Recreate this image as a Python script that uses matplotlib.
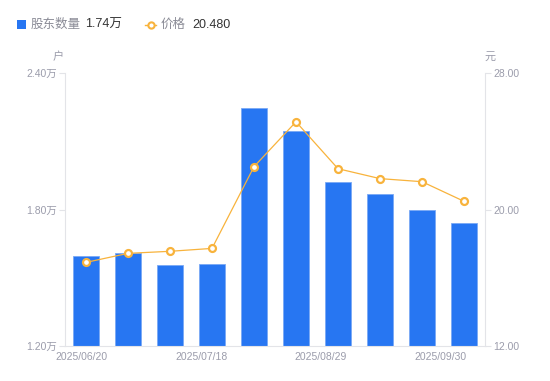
import matplotlib
matplotlib.use("Agg")
import matplotlib.pyplot as plt
from matplotlib.lines import Line2D

plt.rcParams['font.family'] = ['Liberation Sans', 'Noto Sans CJK SC', 'DejaVu Sans']

dates = ["2025/06/20", "2025/06/30", "2025/07/10", "2025/07/18", "2025/07/31",
         "2025/08/10", "2025/08/29", "2025/09/10", "2025/09/19", "2025/09/30"]
holders = [1.594, 1.607, 1.555, 1.559, 2.247, 2.146, 1.923, 1.866, 1.796, 1.74]
price = [16.90, 17.43, 17.55, 17.72, 22.51, 25.14, 22.39, 21.81, 21.63, 20.48]
left_ticks = [1.20, 1.80, 2.40]
left_labels = ["1.20万", "1.80万", "2.40万"]
right_ticks = [12.0, 20.0, 28.0]
right_labels = ["12.00", "20.00", "28.00"]
shown_dates = ["2025/06/20", "2025/07/18", "2025/08/29", "2025/09/30"]

blue = "#2776f2"
orange = "#f8b33c"
grey = "#9b9cab"
axisc = "#e3e4e8"

fig = plt.figure(figsize=(5.5, 3.81), dpi=100)
ax = fig.add_axes([65/550, 35/381, 420/550, 273/381])
ax2 = ax.twinx()

x = list(range(len(dates)))
ax.bar(x, [h - 1.20 for h in holders], bottom=1.20, width=0.62, color=blue,
       edgecolor="#7aa9f5", linewidth=0.6, zorder=2)
ax.set_xlim(-0.5, len(dates) - 0.5)
ax.set_ylim(1.20, 2.40)
ax.set_yticks(left_ticks)
ax.set_yticklabels(left_labels)

ax2.plot(x, price, color=orange, linewidth=0.9, marker="o", markersize=5,
         markerfacecolor="white", markeredgecolor=orange, markeredgewidth=1.6, zorder=3)
ax2.set_ylim(12, 28)
ax2.set_yticks(right_ticks)
ax2.set_yticklabels(right_labels)

# x labels evenly spread across the axis
n = len(shown_dates)
pos = [-0.1 + i * (8.53 / (n - 1)) for i in range(n)]
ax.set_xticks(pos)
ax.set_xticklabels(shown_dates)
ax.tick_params(axis="x", length=0, pad=4, labelsize=7.5, labelcolor=grey)
ax.tick_params(axis="y", length=4, width=0.8, color=axisc, labelsize=7.5, labelcolor=grey, pad=2)
ax2.tick_params(axis="y", length=4, width=0.8, color=axisc, labelsize=7.5, labelcolor=grey, pad=2)

for a in (ax, ax2):
    for s in a.spines.values():
        s.set_visible(False)
ax.spines["left"].set_visible(True)
ax.spines["left"].set_color(axisc)
ax.spines["bottom"].set_visible(True)
ax.spines["bottom"].set_color(axisc)
ax2.spines["right"].set_visible(True)
ax2.spines["right"].set_color(axisc)
ax.set_zorder(ax2.get_zorder() - 1)
ax.patch.set_visible(False)

# unit labels
fig.text(58/550, 1 - 57/381, "户", fontsize=8, color=grey, ha="center", va="center")
fig.text(490/550, 1 - 57/381, "元", fontsize=8, color=grey, ha="center", va="center")

# legend
fig.patches.append(plt.Rectangle((17/550, 1 - 29/381), 9/550, 9/381, transform=fig.transFigure,
                                 facecolor=blue, edgecolor="none"))
fig.text(31/550, 1 - 24.5/381, "股东数量", fontsize=9, color="#8a8b96", va="center")
fig.text(85/550, 1 - 24.5/381, "1.74万", fontsize=9, color="#333333", va="center")
fig.lines.append(Line2D([145/550, 156/550], [1 - 24.5/381, 1 - 24.5/381], transform=fig.transFigure,
                        color=orange, linewidth=1.0))
fig.lines.append(Line2D([150.5/550], [1 - 24.5/381], transform=fig.transFigure, marker="o",
                        markersize=4.5, markerfacecolor="white", markeredgecolor=orange,
                        markeredgewidth=1.5, color=orange))
fig.text(161/550, 1 - 24.5/381, "价格", fontsize=9, color="#8a8b96", va="center")
fig.text(192/550, 1 - 24.5/381, "20.480", fontsize=9, color="#333333", va="center")

fig.savefig("out.png", dpi=100)
